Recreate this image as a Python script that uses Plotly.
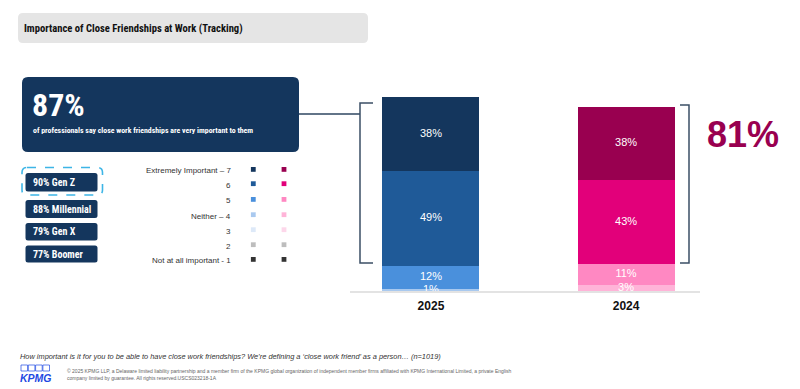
import plotly.graph_objects as go

# ---------------- data ----------------
years = ["2025", "2024"]
levels = ["Not at all important - 1", "2", "3", "Neither \u2013 4", "5", "6", "Extremely Important \u2013 7"]
values_2025 = [0, 0, 0, 1, 12, 49, 38]
values_2024 = [0, 0, 0, 3, 11, 43, 38]
colors_2025 = ["#333333", "#bdbdbd", "#dde9f8", "#a9c9ef", "#4a90dc", "#1f5a98", "#14365d"]
colors_2024 = ["#333333", "#bdbdbd", "#fdd7ea", "#ffb4d8", "#ff88c2", "#e2007a", "#990050"]
headline_value = "87%"
headline_text = "of professionals say close work friendships are very important to them"
generations = ["90% Gen Z", "88% Millennial", "79% Gen X", "77% Boomer"]
top2_2024 = "81%"
title = "Importance of Close Friendships at Work (Tracking)"
question = "How important is it for you to be able to have close work friendships? We\u2019re defining a \u2018close work friend\u2019 as a person\u2026 (n=1019)"
copyright_lines = [
    "\u00a9 2025 KPMG LLP, a Delaware limited liability partnership and a member firm of the KPMG global organization of independent member firms affiliated with KPMG International Limited, a private English",
    "company limited by guarantee. All rights reserved.USCS023218-1A",
]

# ---------------- layout geometry ----------------
W, H = 800, 389
ML, MR, MT, MB = 350, 100, 97, 98
PW, PH = W - ML - MR, H - MT - MB


def px(x):
    return (x - ML) / PW


def py(y):
    return (H - MB - y) / PH


def rrect(x0, y0, x1, y1, r):
    rx, ry = r / PW, r / PH
    a, b, c, d = px(x0), py(y0), px(x1), py(y1)
    return (f"M{a+rx},{b} L{c-rx},{b} Q{c},{b} {c},{b-ry} L{c},{d+ry} Q{c},{d} {c-rx},{d} "
            f"L{a+rx},{d} Q{a},{d} {a},{d+ry} L{a},{b-ry} Q{a},{b} {a+rx},{b} Z")


NARROW = "Roboto Condensed, Open Sans Condensed, Liberation Sans Narrow, sans-serif"
ARIAL = "Liberation Sans, Arial, sans-serif"

fig = go.Figure()
xpos = [0, 1]
series = [values_2025, values_2024]
for i, lvl in enumerate(levels):
    vals = [values_2025[i], values_2024[i]]
    fig.add_trace(go.Bar(
        x=xpos, y=vals, name=lvl,
        marker=dict(color=[colors_2025[i], colors_2024[i]], line=dict(width=0)),
        textposition="none",
        width=0.497, showlegend=False, hoverinfo="skip",
    ))

# segment labels, centred on each stacked segment
lab_x, lab_y, lab_t = [], [], []
for xi, vals in zip(xpos, series):
    cum = 0
    for v in vals:
        if v > 0:
            lab_x.append(xi)
            lab_y.append(cum + v / 2)
            lab_t.append(f"{v}%")
        cum += v
fig.add_trace(go.Scatter(x=lab_x, y=lab_y, text=lab_t, mode="text", textposition="middle center",
                         textfont=dict(color="white", size=11, family=ARIAL),
                         cliponaxis=True, showlegend=False, hoverinfo="skip"))

shapes = []
annotations = []

# title box
shapes.append(dict(type="path", path=rrect(18, 13, 368, 43, 5), xref="paper", yref="paper",
                   fillcolor="#e5e5e5", line=dict(width=0), layer="below"))
annotations.append(dict(x=px(22), y=py(28.5), xref="paper", yref="paper", text=f"<b>{title}</b>",
                        showarrow=False, xanchor="left", yanchor="middle",
                        font=dict(family=NARROW, size=10.6, color="#111111")))

# headline box
shapes.append(dict(type="path", path=rrect(22, 77, 299, 152, 6), xref="paper", yref="paper",
                   fillcolor="#14365d", line=dict(width=0)))
annotations.append(dict(x=px(30), y=py(105), xref="paper", yref="paper", text=f"<b>{headline_value}</b>",
                        showarrow=False, xanchor="left", yanchor="middle",
                        font=dict(family=NARROW, size=32, color="white")))
annotations.append(dict(x=px(31), y=py(130), xref="paper", yref="paper", text=f"<b>{headline_text}</b>",
                        showarrow=False, xanchor="left", yanchor="middle",
                        font=dict(family=NARROW, size=7.8, color="white")))

# connector + brackets
shapes.append(dict(type="line", xref="paper", yref="paper", x0=px(299), x1=px(360), y0=py(114), y1=py(114),
                   line=dict(color="#2e4660", width=1.3)))
brk = dict(color="#3b4f66", width=1.5)
shapes.append(dict(type="path", xref="paper", yref="paper",
                   path=f"M{px(373)},{py(103)} L{px(360)},{py(103)} L{px(360)},{py(263)} L{px(373)},{py(263)}",
                   line=brk))
shapes.append(dict(type="path", xref="paper", yref="paper",
                   path=f"M{px(680)},{py(105)} L{px(689)},{py(105)} L{px(689)},{py(263)} L{px(680)},{py(263)}",
                   line=brk))
annotations.append(dict(x=px(743), y=py(134), xref="paper", yref="paper", text=f"<b>{top2_2024}</b>",
                        showarrow=False, xanchor="center", yanchor="middle",
                        font=dict(family=ARIAL, size=36, color="#990050")))

# generation boxes
gen_y = [(173, 191.5), (200, 218), (223, 240.5), (245.5, 262.5)]
shapes.append(dict(type="path", path=rrect(22, 167.5, 102.5, 195, 5), xref="paper", yref="paper",
                   fillcolor="rgba(0,0,0,0)", line=dict(color="#3db5e6", width=1.6, dash="dash")))
for g, (y0, y1) in zip(generations, gen_y):
    shapes.append(dict(type="path", path=rrect(25.5, y0, 97.5, y1, 2.5), xref="paper", yref="paper",
                       fillcolor="#14365d", line=dict(width=0)))
    annotations.append(dict(x=px(31), y=py((y0 + y1) / 2), xref="paper", yref="paper", text=f"<b>{g}</b>",
                            showarrow=False, xanchor="left", yanchor="middle",
                            font=dict(family=NARROW, size=10, color="white")))

# custom legend
leg_y = [260.7, 246, 231, 216, 200.7, 185, 170.7]
for lvl, y, c5, c4 in zip(levels, leg_y, colors_2025, colors_2024):
    annotations.append(dict(x=px(232.5), y=py(y), xref="paper", yref="paper", text=lvl,
                            showarrow=False, xanchor="right", yanchor="middle",
                            font=dict(family=ARIAL, size=8, color="#333333")))
    for cx, col in ((253.3, c5), (284, c4)):
        shapes.append(dict(type="rect", xref="paper", yref="paper", x0=px(cx - 2.4), x1=px(cx + 2.4),
                           y0=py(y - 1.3 + 2.4), y1=py(y - 1.3 - 2.4), fillcolor=col, line=dict(width=0)))

# footer
annotations.append(dict(x=px(18), y=py(356), xref="paper", yref="paper", text=f"<i>{question}</i>",
                        showarrow=False, xanchor="left", yanchor="middle",
                        font=dict(family=ARIAL, size=7.4, color="#333333")))
annotations.append(dict(x=px(65), y=py(374.5), xref="paper", yref="paper",
                        text="<br>".join(copyright_lines),
                        showarrow=False, xanchor="left", yanchor="middle", align="left",
                        font=dict(family=ARIAL, size=5, color="#666666")))
annotations.append(dict(x=px(17.5), y=py(377.5), xref="paper", yref="paper", text="<b><i>KPMG</i></b>",
                        showarrow=False, xanchor="left", yanchor="middle",
                        font=dict(family=ARIAL, size=10.5, color="#1e49e2")))
for k in range(4):
    x0 = 21 + k * 7.3
    shapes.append(dict(type="rect", xref="paper", yref="paper", x0=px(x0), x1=px(x0 + 6.6),
                       y0=py(371), y1=py(365), fillcolor="rgba(0,0,0,0)",
                       line=dict(color="#1e49e2", width=0.7)))

fig.update_layout(
    width=W, height=H,
    margin=dict(l=ML, r=MR, t=MT, b=MB),
    barmode="stack",
    paper_bgcolor="white", plot_bgcolor="white",
    shapes=shapes, annotations=annotations,
    xaxis=dict(range=[-0.415, 1.379], tickvals=xpos, ticktext=[f"<b>{y}</b>" for y in years],
               tickfont=dict(family=ARIAL, size=12, color="#111111"), ticklabelstandoff=3,
               showline=True, linecolor="#e3e3e3", linewidth=1.5, showgrid=False, zeroline=False,
               ticks="", fixedrange=True),
    yaxis=dict(range=[0, 100], visible=False, fixedrange=True),
    showlegend=False,
)

fig.write_html("out.html", config={"displayModeBar": False},
               post_script="document.body.style.margin='0';")
